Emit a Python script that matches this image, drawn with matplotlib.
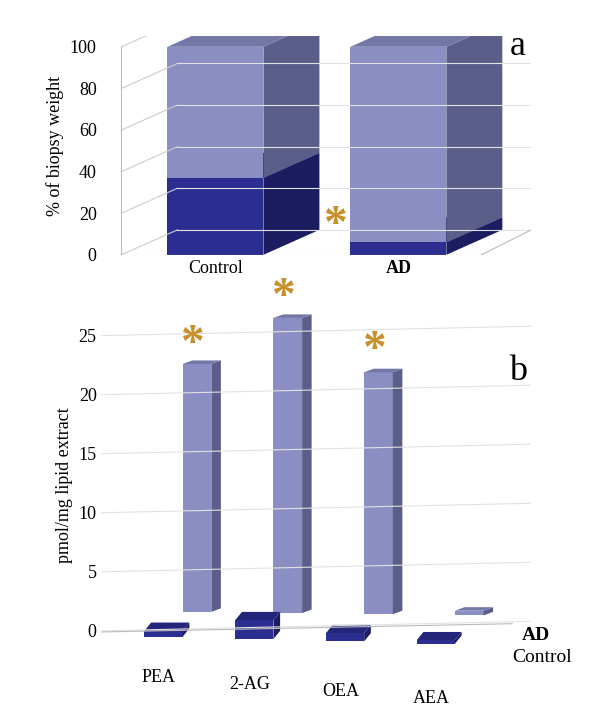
import matplotlib
matplotlib.use("Agg")
import matplotlib.pyplot as plt
from matplotlib.patches import Polygon

# ---- data ----
groups_a = ["Control", "AD"]
dark_a = [37, 6]
light_a = [63, 94]

cats_b = ["PEA", "2-AG", "OEA", "AEA"]
ad_b = [21, 25, 20.5, 0.4]
ctrl_b = [0.5, 1.6, 0.7, 0.3]
sig_a = [False, True]
sig_b = [True, True, True, False]

LF, LS, LT = "#8a8ec2", "#5b5e88", "#7377a5"
DF, DS, DT = "#2b2e90", "#1b1d60", "#23257a"

plt.rcParams["font.family"] = "Liberation Serif"

def box(ax, x, y0, w, h, dx, dy, fc, sc, tc):
    ax.add_patch(Polygon([(x, y0), (x + w, y0), (x + w, y0 + h), (x, y0 + h)], closed=True, fc=fc, ec="none"))
    ax.add_patch(Polygon([(x + w, y0), (x + w + dx, y0 + dy), (x + w + dx, y0 + h + dy), (x + w, y0 + h)], closed=True, fc=sc, ec="none"))
    ax.add_patch(Polygon([(x, y0 + h), (x + w, y0 + h), (x + w + dx, y0 + h + dy), (x + dx, y0 + h + dy)], closed=True, fc=tc, ec="none"))

fig = plt.figure(figsize=(5.97, 7.28), dpi=100)

# ---- panel a ----
ax = fig.add_axes([0.17, 0.65, 0.72, 0.30])
ax.set_xlim(-0.4, 1.75)
ax.set_ylim(0, 105)
dxa, dya = 0.28, 12
for v in range(0, 101, 20):
    ax.plot([-0.3, -0.3 + dxa], [v, v + dya], color="#cccccc", lw=0.8)
    ax.plot([-0.3 + dxa, 1.75], [v + dya, v + dya], color="#e2e2e2", lw=0.8)
ax.plot([-0.3, 1.5], [0, 0], color="#bbbbbb", lw=0.8)
ax.plot([1.5, 1.75], [0, dya], color="#bbbbbb", lw=0.8)
ax.plot([-0.3, -0.3], [0, 100], color="#bbbbbb", lw=0.8)
w = 0.48
xs = []
for i in range(2):
    x = i * 0.915 - 0.07
    xs.append(x + w / 2)
    box(ax, x, 0, w, dark_a[i], dxa, dya, DF, DS, DT)
    box(ax, x, dark_a[i], w, light_a[i], dxa, dya, LF, LS, LT)
    if sig_a[i]:
        ax.text(x - 0.08, 14, "*", color="#c8902a", fontsize=34, ha="center", va="center", fontweight="bold")
ax.set_xticks(xs)
ax.set_xticklabels(groups_a, fontsize=13)
ax.get_xticklabels()[1].set_fontweight("bold")
ax.set_yticks(range(0, 101, 20))
ax.tick_params(length=0, labelsize=13)
ax.set_ylabel("% of biopsy weight", fontsize=13)
for s in ax.spines.values():
    s.set_visible(False)
ax.text(1.72, 100, "a", fontsize=26, ha="right", va="center")

# ---- panel b ----
bx = fig.add_axes([0.17, 0.093, 0.72, 0.48])
bx.set_xlim(-0.5, 4.0)
bx.set_ylim(-2.5, 27.1)
for v in range(0, 26, 5):
    bx.plot([-0.5, 4.0], [v, v + 0.8], color="#e2e2e2", lw=0.8)
bx.plot([-0.5, 3.8], [-0.1, 0.6], color="#bbbbbb", lw=0.8)
dxb, dyb = 0.1, 0.3
for i in range(4):
    xa = i * 0.95 + 0.35
    box(bx, xa, 1.6 - i * 0.1, 0.3, ad_b[i], dxb, dyb, LF, LS, LT)
    if sig_b[i]:
        bx.text(xa + 0.1, ad_b[i] + 3.2, "*", color="#c8902a", fontsize=34, ha="center", va="center", fontweight="bold")
    xc = i * 0.95 - 0.05
    box(bx, xc, -0.5 - i * 0.2, 0.4, ctrl_b[i], 0.07, 0.7, DF, DS, DT)
bx.set_yticks(range(0, 26, 5))
bx.set_xticks([i * 0.95 + 0.1 for i in range(4)])
bx.set_xticklabels(cats_b, fontsize=13)
for i, t in enumerate(bx.get_xticklabels()):
    t.set_y(-0.01 - i * 0.02)
bx.tick_params(length=0, labelsize=13)
bx.set_ylabel("pmol/mg lipid extract", fontsize=13)
for s in bx.spines.values():
    s.set_visible(False)
bx.text(3.95, 22, "b", fontsize=26, ha="right", va="center")
bx.text(3.9, -0.4, "AD", fontsize=14, fontweight="bold", ha="left", va="center", clip_on=False)
bx.text(3.8, -2.3, "Control", fontsize=14, ha="left", va="center", clip_on=False)

fig.savefig("out.png", dpi=100)
